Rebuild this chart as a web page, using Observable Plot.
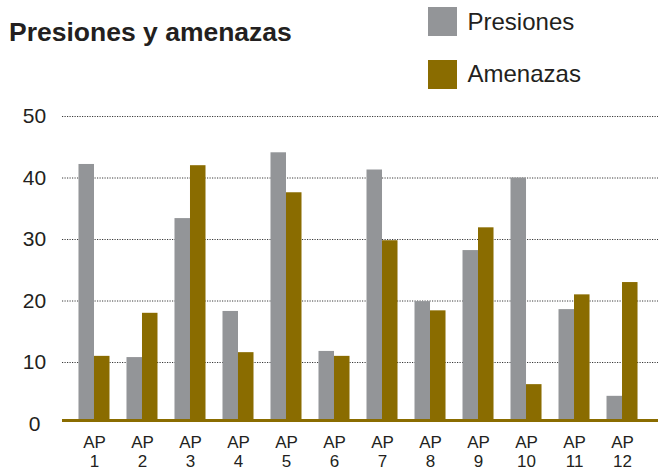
<!DOCTYPE html>
<html>
<head>
<meta charset="utf-8">
<script src="https://cdn.jsdelivr.net/npm/d3@7"></script>
<script src="https://cdn.jsdelivr.net/npm/@observablehq/plot@0.6"></script>
<style>
  html, body { margin: 0; padding: 0; background: #fff; overflow: hidden; }
  #wrap { position: relative; width: 658px; height: 472px; font-family: "Liberation Sans", Arial, Helvetica, sans-serif; color: #231f20; }
  #header { position: relative; width: 658px; height: 100px; }
  .t { position: absolute; line-height: 1; white-space: nowrap; }
  .sw { position: absolute; width: 28.5px; height: 28.5px; }
  #chart { position: absolute; left: 0; top: 100px; }
  #chart svg { display: block; overflow: visible; }
</style>
</head>
<body>
<div id="wrap">
  <div id="header">
    <div class="t" id="title" style="left:9px; top:18.5px; font-size:26.5px; font-weight:bold;">Presiones y amenazas</div>
    <div class="sw" id="sw0" style="left:428px; top:7.3px;"></div>
    <div class="t" id="lg0" style="left:467.5px; top:9.7px; font-size:24px;"></div>
    <div class="sw" id="sw1" style="left:428px; top:60.3px;"></div>
    <div class="t" id="lg1" style="left:467.5px; top:62.4px; font-size:24px;"></div>
  </div>
  <div id="chart"></div>
</div>
<script>
const apNumbers = ["1","2","3","4","5","6","7","8","9","10","11","12"];
const presiones = [42.2, 10.8, 33.4, 18.3, 44.1, 11.8, 41.3, 19.9, 28.2, 40.0, 18.6, 4.5];
const amenazas  = [11.0, 18.0, 42.0, 11.6, 37.6, 11.0, 29.8, 18.4, 31.9, 6.4, 21.0, 23.0];
const seriesNames = ["Presiones", "Amenazas"];
const seriesColors = ["#939598", "#8a6c00"];
const yTicks = [0, 10, 20, 30, 40, 50];

document.getElementById("sw0").style.background = seriesColors[0];
document.getElementById("sw1").style.background = seriesColors[1];
document.getElementById("lg0").textContent = seriesNames[0];
document.getElementById("lg1").textContent = seriesNames[1];

const rows = apNumbers.map((n, i) => ({ap: n, presiones: presiones[i], amenazas: amenazas[i]}));

const chart = Plot.plot({
  width: 658,
  height: 372,
  marginLeft: 62,
  marginRight: 0,
  marginTop: 16,
  marginBottom: 48.5,
  style: { fontFamily: '"Liberation Sans", Arial, Helvetica, sans-serif', color: "#231f20", background: "transparent" },
  x: { domain: apNumbers, paddingInner: 0.354, paddingOuter: 0.385, align: 0.446, round: false, axis: null, label: null },
  y: { domain: [0, 50], axis: null, label: null },
  marks: [
    Plot.ruleY(yTicks.filter(d => d > 0), { stroke: "#3a3a3a", strokeWidth: 1, strokeDasharray: "1.2,1.3" }),
    Plot.barY(rows, { x: "ap", y: "presiones", fill: seriesColors[0], insetRight: 15.5, insetBottom: 3 }),
    Plot.barY(rows, { x: "ap", y: "amenazas", fill: seriesColors[1], insetLeft: 15.5, insetBottom: 3 }),
    Plot.ruleY([0], { stroke: seriesColors[1], strokeWidth: 3, dy: -3.6 }),
    Plot.axisY({ ticks: yTicks, tickSize: 0, tickPadding: 0, dx: -28, textAnchor: "middle", fontSize: 21, label: null, tickFormat: d => String(d) }),
    Plot.axisX({ tickSize: 0, tickPadding: 10, fontSize: 17, lineHeight: 1.15, label: null, tickFormat: d => "AP\n" + d })
  ]
});
document.getElementById("chart").appendChild(chart);
</script>
</body>
</html>
